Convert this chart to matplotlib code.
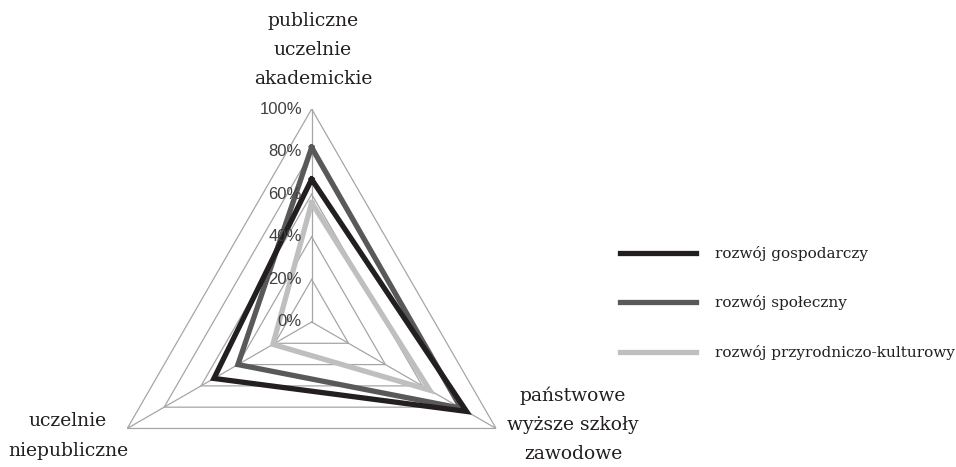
import matplotlib.pyplot as plt
import numpy as np

# Data
categories = ['publiczne\nuczelnie\nakademickie',
              'państwowe\nwyższe szkoły\nzawodowe',
              'uczelnie\nniepubliczne']
series_names = ['rozwój gospodarczy', 'rozwój społeczny', 'rozwój przyrodniczo-kulturowy']
gospodarczy = [0.67, 0.84, 0.53]
spoleczny = [0.82, 0.81, 0.40]
przyrodniczy = [0.56, 0.64, 0.21]
levels = [0.0, 0.2, 0.4, 0.6, 0.8, 1.0]
level_labels = ['0%', '20%', '40%', '60%', '80%', '100%']

colors = ['#231f20', '#595959', '#bfbfbf']
grid_color = '#a6a6a6'
serif = ['DejaVu Serif']

fig = plt.figure(figsize=(9.56, 4.67), dpi=100)
ax = fig.add_axes([0.1032, -0.1455, 0.4456, 0.912], projection='polar')
ax.set_theta_offset(np.pi / 2)
ax.set_theta_direction(-1)
ax.set_ylim(0, 1)
ax.grid(False)
ax.set_xticks([])
ax.set_yticks([])
ax.spines['polar'].set_visible(False)
ax.patch.set_visible(False)

angles = np.linspace(0, 2 * np.pi, len(categories), endpoint=False)
closed = np.append(angles, angles[0])

# triangular grid + spokes
for lv in levels[1:]:
    ax.plot(closed, [lv] * len(closed), color=grid_color, lw=0.9, zorder=1)
for a in angles:
    ax.plot([a, a], [0, 1], color=grid_color, lw=0.9, zorder=1)

# series (light first so dark lines lie on top)
all_series = [gospodarczy, spoleczny, przyrodniczy]
handles = [None] * 3
for i in [2, 1, 0]:
    vals = all_series[i] + all_series[i][:1]
    handles[i], = ax.plot(closed, vals, color=colors[i], lw=3.8,
                          solid_joinstyle='miter', label=series_names[i], zorder=3 + (2 - i))

# percentage labels along the top axis
for lv, lab in zip(levels, level_labels):
    ax.annotate(lab, xy=(0, lv), xytext=(-7, 0), textcoords='offset points',
                ha='right', va='center', fontsize=12, color='#404040',
                family='Liberation Sans', zorder=10)

# category labels
lab_kw = dict(ha='center', va='center', fontsize=13.5, family=serif,
              color='#231f20', linespacing=1.8)
fig.text(313 / 956, 1 - 50 / 467, categories[0], **lab_kw)
fig.text(573 / 956, 1 - 425 / 467, categories[1], **lab_kw)
fig.text(68 / 956, 1 - 436 / 467, categories[2], **lab_kw)

leg = fig.legend(handles=handles, loc='center left',
                 bbox_to_anchor=(620 / 956, 1 - 303 / 467),
                 frameon=False, borderpad=0, borderaxespad=0,
                 handlelength=5.0, handletextpad=1.25, labelspacing=2.25,
                 prop={'family': serif, 'size': 11})
for t in leg.get_texts():
    t.set_color('#231f20')

fig.savefig('out.png', dpi=100, facecolor='white')
